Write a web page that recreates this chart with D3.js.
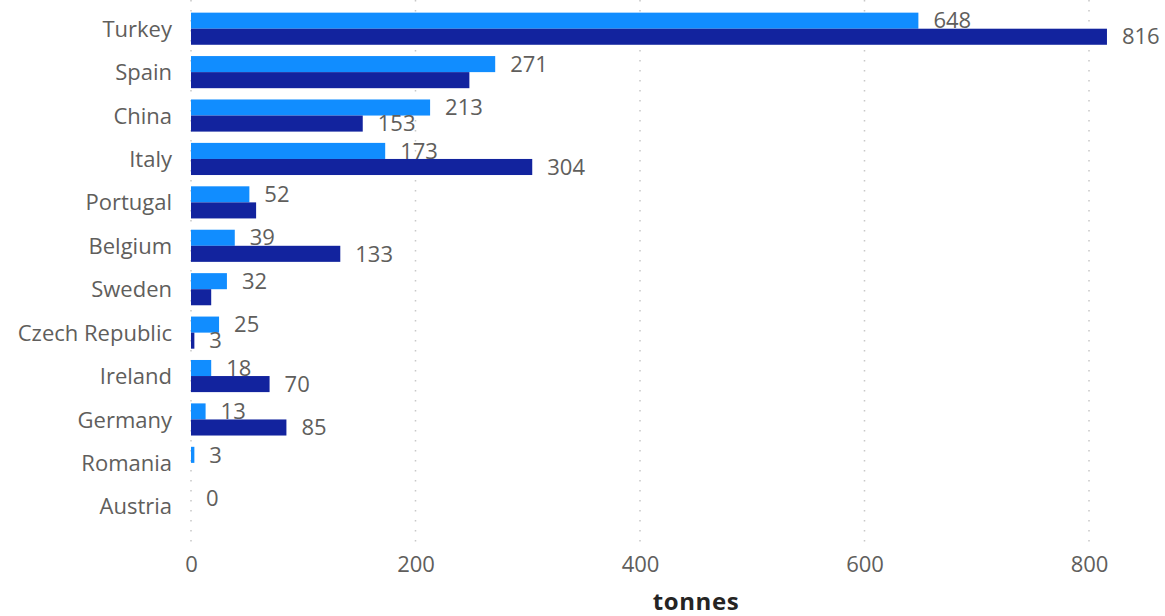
<!DOCTYPE html>
<html><head><meta charset="utf-8">
<script src="https://cdn.jsdelivr.net/npm/d3@7"></script>
<style>
body{margin:0;background:#fff;}
text{font-family:"Segoe UI","Open Sans","Noto Sans",sans-serif;}
</style></head>
<body>
<svg id="chart" width="1165" height="616"></svg>
<script>
const categories = ["Turkey","Spain","China","Italy","Portugal","Belgium","Sweden","Czech Republic","Ireland","Germany","Romania","Austria"];
const series1 = [648,271,213,173,52,39,32,25,18,13,3,0];
const series2 = [816,248,153,304,58,133,18,3,70,85,0,0];
const xTicks = [0,200,400,600,800];
const axisTitle = "tonnes";

const svg = d3.select("#chart");
const x = d3.scaleLinear().domain([0,800]).range([191,1089]);
const y = d3.scaleBand().domain(categories).range([7,528]).paddingInner(0.26).paddingOuter(0.13);
const sub = d3.scaleBand().domain([0,1]).range([0,y.bandwidth()]);
const FS = 22;

// gridlines
svg.append("g").selectAll("line").data(xTicks).join("line")
  .attr("x1",d=>x(d)).attr("x2",d=>x(d)).attr("y1",0).attr("y2",543)
  .attr("stroke","#c8c8c8").attr("stroke-width",1.5).attr("stroke-dasharray","1.5,8.5");

// tick labels
const xAxis = d3.axisBottom(x).tickValues(xTicks).tickSize(0).tickPadding(0);
const gx = svg.append("g").attr("transform","translate(0,564)").call(xAxis);
gx.select(".domain").remove();
gx.selectAll("text").attr("font-size",FS).attr("fill","#605e5c").attr("dy","0.35em")
  .attr("font-family","'Segoe UI','Open Sans',sans-serif");

// category labels
const yAxis = d3.axisLeft(y).tickSize(0).tickPadding(0);
const gy = svg.append("g").attr("transform","translate(172,1)").call(yAxis);
gy.select(".domain").remove();
gy.selectAll("text").attr("font-size",FS).attr("fill","#605e5c")
  .attr("font-family","'Segoe UI','Open Sans',sans-serif");

const colors = ["#118dff","#12239e"];
const allSeries = [series1, series2];
allSeries.forEach((s,si)=>{
  svg.append("g").selectAll("rect").data(s).join("rect")
    .attr("x",x(0)).attr("y",(d,i)=>y(categories[i])+sub(si))
    .attr("width",d=>x(d)-x(0)).attr("height",sub.bandwidth())
    .attr("fill",colors[si]);
});

// data labels with simple overlap avoidance
const placed = [];
const lg = svg.append("g");
allSeries.forEach((s,si)=>{
  s.forEach((d,i)=>{
    const t = lg.append("text").text(d)
      .attr("x",x(d)+15).attr("y",y(categories[i])+sub(si)+sub.bandwidth()/2)
      .attr("dy","0.35em").attr("font-size",FS).attr("fill","#605e5c");
    const b = t.node().getBBox();
    const hit = placed.some(p=> b.x < p.x+p.width && b.x+b.width > p.x && b.y+5 < p.y+p.height && b.y+b.height-5 > p.y);
    if(hit){ t.remove(); } else { placed.push(b); }
  });
});

svg.append("text").text(axisTitle).attr("x",696).attr("y",610)
  .attr("text-anchor","middle").attr("font-size",24).attr("font-weight","bold")
  .attr("letter-spacing","0.6px")
  .attr("fill","#252423").attr("font-family","'DIN','Roboto','Noto Sans',sans-serif");
</script>
</body></html>
